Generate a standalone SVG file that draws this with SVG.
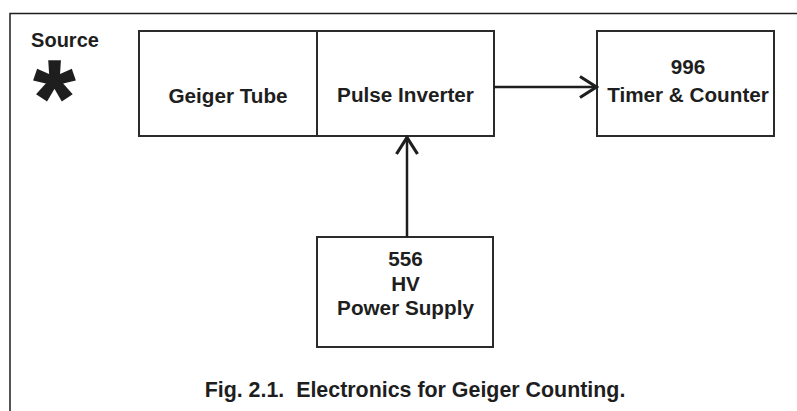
<svg xmlns="http://www.w3.org/2000/svg" width="797" height="411" viewBox="0 0 797 411">
<style>
  .box { fill: #ffffff; stroke: #2b2b2b; stroke-width: 2; }
  .lbl { font-family: "Liberation Sans", Arial, sans-serif; font-weight: bold; font-size: 20.7px; fill: #1e1e1e; text-anchor: middle; }
  .conn { stroke: #1e1e1e; stroke-width: 2.5; fill: none; }
  .frame { stroke: #1e1e1e; stroke-width: 1.5; fill: none; }
</style>
<defs>
  <marker id="chev" markerUnits="userSpaceOnUse" markerWidth="22" markerHeight="26" viewBox="0 0 22 26" refX="20" refY="13" orient="auto">
    <path d="M3,2.5 L19.5,13 L3,23.5" fill="none" stroke="#1e1e1e" stroke-width="3.2" stroke-linejoin="miter"/>
  </marker>
</defs>
<rect width="797" height="411" fill="#ffffff"/>
<g id="frame">
  <path class="frame" d="M10,411 L10,13.5 L797,13.5"/>
</g>
<g id="source">
  <text class="lbl" x="65" y="47" style="font-size:20px">Source</text>
  <text class="lbl" x="54.5" y="133.5" style="font-size:106px;stroke:#1e1e1e;stroke-width:1.5">*</text>
</g>
<g id="geiger-tube">
  <rect class="box" x="139" y="31" width="178" height="105"/>
  <text class="lbl" x="228" y="103">Geiger Tube</text>
</g>
<g id="pulse-inverter">
  <rect class="box" x="317" y="31" width="177" height="105"/>
  <text class="lbl" x="405.5" y="102">Pulse Inverter</text>
</g>
<g id="timer-counter">
  <rect class="box" x="597" y="31" width="177" height="105"/>
  <text class="lbl" x="688" y="74">996</text>
  <text class="lbl" x="688" y="102">Timer &amp; Counter</text>
</g>
<g id="hv-supply">
  <rect class="box" x="317" y="237" width="176" height="110"/>
  <text class="lbl" x="405.5" y="266">556</text>
  <text class="lbl" x="405.5" y="291">HV</text>
  <text class="lbl" x="405.5" y="315">Power Supply</text>
</g>
<g id="connectors">
  <line class="conn" x1="494" y1="87" x2="597" y2="87" marker-end="url(#chev)"/>
  <line class="conn" x1="407" y1="237" x2="407" y2="137" marker-end="url(#chev)"/>
</g>
<g id="caption">
  <text class="lbl" x="415" y="397" style="font-size:21.4px">Fig. 2.1.&#160; Electronics for Geiger Counting.</text>
</g>
</svg>
